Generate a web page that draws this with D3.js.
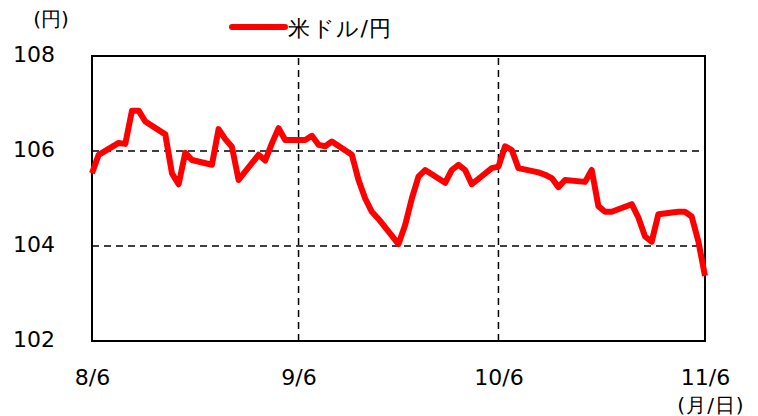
<!DOCTYPE html>
<html>
<head>
<meta charset="utf-8">
<script src="https://cdn.jsdelivr.net/npm/d3@7"></script>
<style>
  body { margin: 0; background: #fff; }
  svg text { font-family: "DejaVu Sans", Verdana, sans-serif; fill: #000; }
</style>
</head>
<body>
<div id="chart"></div>
<script>
// USD/JPY daily, 2020-08-06 .. 2020-11-06 (weekdays)
var dates = ["2020-08-06","2020-08-07","2020-08-10","2020-08-11","2020-08-12","2020-08-13","2020-08-14",
  "2020-08-17","2020-08-18","2020-08-19","2020-08-20","2020-08-21",
  "2020-08-24","2020-08-25","2020-08-26","2020-08-27","2020-08-28",
  "2020-08-31","2020-09-01","2020-09-02","2020-09-03","2020-09-04",
  "2020-09-07","2020-09-08","2020-09-09","2020-09-10","2020-09-11",
  "2020-09-14","2020-09-15","2020-09-16","2020-09-17","2020-09-18",
  "2020-09-21","2020-09-22","2020-09-23","2020-09-24","2020-09-25",
  "2020-09-28","2020-09-29","2020-09-30","2020-10-01","2020-10-02",
  "2020-10-05","2020-10-06","2020-10-07","2020-10-08","2020-10-09",
  "2020-10-12","2020-10-13","2020-10-14","2020-10-15","2020-10-16",
  "2020-10-19","2020-10-20","2020-10-21","2020-10-22","2020-10-23",
  "2020-10-26","2020-10-27","2020-10-28","2020-10-29","2020-10-30",
  "2020-11-02","2020-11-03","2020-11-04","2020-11-05","2020-11-06"];
var usdjpy = [105.53,105.92,106.17,106.15,106.85,106.85,106.62,
  106.35,105.53,105.30,105.96,105.81,
  105.71,106.46,106.25,106.09,105.39,
  105.92,105.80,106.16,106.48,106.23,
  106.23,106.32,106.13,106.10,106.20,
  105.92,105.39,105.00,104.72,104.57,
  104.04,104.44,105.00,105.46,105.60,
  105.33,105.60,105.71,105.60,105.30,
  105.64,105.67,106.10,106.02,105.64,
  105.55,105.50,105.43,105.24,105.39,
  105.35,105.60,104.84,104.72,104.72,
  104.88,104.60,104.20,104.09,104.67,
  104.72,104.72,104.62,104.10,103.37];
var xTicks = ["2020-08-06","2020-09-06","2020-10-06","2020-11-06"];
var yTicks = [102, 104, 106, 108];
var seriesName = "米ドル/円";

var width = 758, height = 416;
var margin = {top: 56, right: 53, bottom: 75, left: 92};

var parseDate = d3.utcParse("%Y-%m-%d");
var data = dates.map(function(d, i) { return {date: parseDate(d), value: usdjpy[i]}; });

var svg = d3.select("#chart").append("svg")
  .attr("width", width)
  .attr("height", height);

var x = d3.scaleUtc()
  .domain([parseDate(xTicks[0]), parseDate(xTicks[xTicks.length - 1])])
  .range([margin.left, width - margin.right]);

var y = d3.scaleLinear()
  .domain([102, 108])
  .range([height - margin.bottom, margin.top]);

// dashed grid
svg.append("g")
  .selectAll("line")
  .data(yTicks.slice(1, -1))
  .enter().append("line")
  .attr("x1", x.range()[0]).attr("x2", x.range()[1])
  .attr("y1", function(d) { return y(d); })
  .attr("y2", function(d) { return y(d); })
  .attr("stroke", "#000").attr("stroke-width", 1.5)
  .attr("stroke-dasharray", "7,5");

svg.append("g")
  .selectAll("line")
  .data(xTicks.slice(1, -1))
  .enter().append("line")
  .attr("x1", function(d) { return x(parseDate(d)); })
  .attr("x2", function(d) { return x(parseDate(d)); })
  .attr("y1", y.range()[0]).attr("y2", y.range()[1])
  .attr("stroke", "#000").attr("stroke-width", 1.5)
  .attr("stroke-dasharray", "7,5");

// frame
svg.append("rect")
  .attr("x", x.range()[0]).attr("y", y.range()[1])
  .attr("width", x.range()[1] - x.range()[0])
  .attr("height", y.range()[0] - y.range()[1])
  .attr("fill", "none").attr("stroke", "#000").attr("stroke-width", 2);

// y axis labels
var yAxis = svg.append("g")
  .attr("transform", "translate(" + (margin.left - 37) + ",-2)")
  .call(d3.axisLeft(y).tickValues(yTicks).tickSize(0).tickPadding(0).tickFormat(d3.format("d")));
yAxis.select(".domain").remove();
yAxis.selectAll("text").attr("font-size", 22).attr("font-family", null);

// x axis labels
var xAxis = svg.append("g")
  .attr("transform", "translate(0," + (height - margin.bottom + 28) + ")")
  .call(d3.axisBottom(x).tickValues(xTicks.map(parseDate)).tickSize(0).tickPadding(0)
    .tickFormat(d3.utcFormat("%-m/%-d")));
xAxis.select(".domain").remove();
xAxis.selectAll("text").attr("font-size", 22).attr("font-family", null);

// unit labels
svg.append("text").attr("x", 51).attr("y", 26).attr("text-anchor", "middle")
  .attr("font-size", 20).text("(円)");
svg.append("text").attr("x", x.range()[1] + 6).attr("y", 412).attr("text-anchor", "middle")
  .attr("font-size", 20).attr("letter-spacing", 1).text("(月/日)");

// line
var line = d3.line()
  .x(function(d) { return x(d.date); })
  .y(function(d) { return y(d.value); });

svg.append("path")
  .datum(data)
  .attr("fill", "none")
  .attr("stroke", "#ff0000")
  .attr("stroke-width", 6)
  .attr("stroke-linejoin", "round")
  .attr("d", line);

// legend
svg.append("line")
  .attr("x1", 232).attr("x2", 285).attr("y1", 27).attr("y2", 27)
  .attr("stroke", "#ff0000").attr("stroke-width", 6).attr("stroke-linecap", "round");
svg.append("text").attr("x", 288).attr("y", 36)
  .attr("font-size", 22).attr("letter-spacing", 1.5).text(seriesName);
</script>
</body>
</html>
